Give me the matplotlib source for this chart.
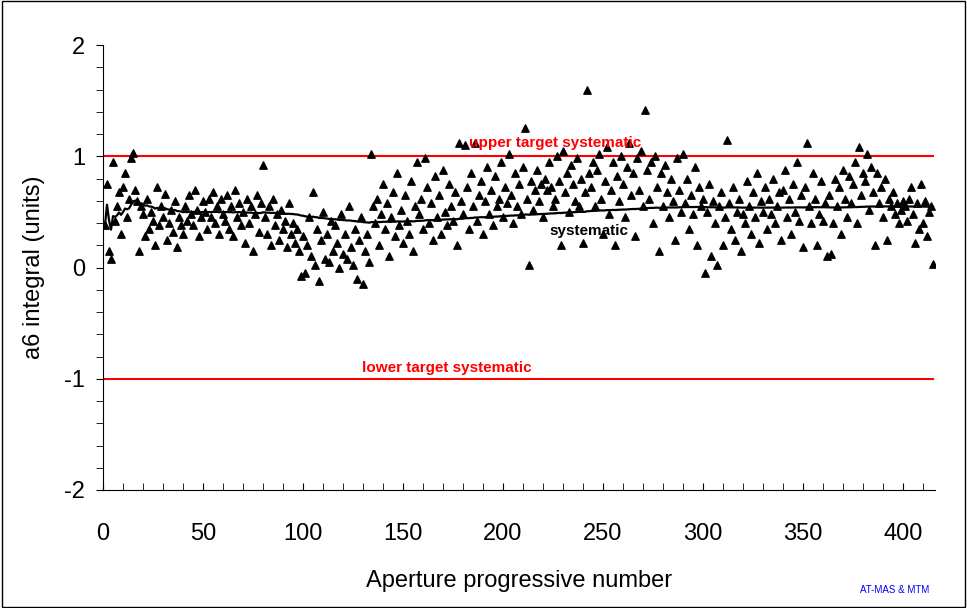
import numpy as np
import matplotlib
matplotlib.use("Agg")
import matplotlib.pyplot as plt
from matplotlib.ticker import MultipleLocator

plt.rcParams['font.family'] = ['Liberation Sans', 'DejaVu Sans']
plt.rcParams['axes.unicode_minus'] = False

vals = [
0.38,0.75,0.15,0.08,0.95,0.42,0.55,0.68,0.30,0.72,0.85,0.45,0.62,0.98,1.03,0.70,0.60,0.15,0.55,0.48,
0.28,0.62,0.35,0.50,0.42,0.20,0.72,0.38,0.55,0.45,0.66,0.25,0.40,0.52,0.32,0.60,0.18,0.45,0.38,0.30,
0.55,0.42,0.65,0.48,0.38,0.70,0.52,0.28,0.45,0.60,0.50,0.35,0.62,0.45,0.68,0.40,0.55,0.30,0.62,0.48,
0.42,0.65,0.35,0.55,0.28,0.70,0.45,0.58,0.38,0.50,0.22,0.62,0.40,0.55,0.15,0.48,0.65,0.32,0.58,0.92,
0.45,0.30,0.55,0.20,0.62,0.38,0.48,0.25,0.52,0.35,0.42,0.18,0.58,0.30,0.40,0.22,0.35,0.15,-0.08,0.28,
-0.05,0.20,0.45,0.10,0.68,0.02,0.35,-0.12,0.25,0.50,0.08,0.30,0.05,0.42,0.15,0.38,0.22,0.00,0.48,0.12,
0.30,0.08,0.55,0.18,0.02,0.35,-0.10,0.25,0.45,-0.15,0.15,0.30,0.05,1.02,0.55,0.40,0.62,0.20,0.48,0.75,
0.35,0.58,0.10,0.45,0.68,0.28,0.85,0.38,0.52,0.22,0.65,0.42,0.30,0.78,0.15,0.55,0.95,0.48,0.62,0.35,
0.98,0.72,0.40,0.58,0.25,0.82,0.45,0.65,0.30,0.88,0.50,0.38,0.75,0.55,0.42,0.68,0.20,1.12,0.60,0.48,
1.10,0.72,0.35,0.85,0.55,1.12,0.42,0.65,0.78,0.30,0.60,0.90,0.48,0.70,0.38,0.82,0.55,0.62,0.95,0.45,
0.72,0.58,1.02,0.65,0.40,0.85,0.55,0.75,0.48,0.90,1.25,0.62,0.02,0.78,0.52,0.70,0.88,0.60,0.75,0.45,
0.80,0.70,0.95,0.72,0.55,0.62,1.00,0.78,0.20,1.05,0.68,0.85,0.50,0.92,0.75,0.60,0.98,0.55,0.80,0.22,
0.68,1.60,0.85,0.72,0.95,0.55,0.88,1.02,0.62,0.30,0.78,1.08,0.48,0.70,0.95,0.20,0.82,0.60,1.00,0.75,
0.45,0.90,1.12,0.65,0.85,0.28,0.98,0.70,1.05,0.55,1.42,0.88,0.62,0.95,0.40,1.00,0.72,0.15,0.85,0.55,
0.92,0.68,0.45,0.80,0.60,0.25,0.98,0.70,0.50,1.02,0.58,0.80,0.35,0.65,0.48,0.90,0.20,0.72,0.55,0.62,
-0.05,0.50,0.75,0.10,0.60,0.40,0.02,0.55,0.68,0.20,0.45,1.15,0.58,0.35,0.72,0.25,0.50,0.62,0.15,0.48,
0.40,0.78,0.55,0.30,0.68,0.45,0.85,0.22,0.60,0.50,0.72,0.35,0.62,0.48,0.80,0.40,0.55,0.68,0.25,0.70,
0.88,0.45,0.62,0.30,0.75,0.50,0.95,0.42,0.65,0.18,0.72,1.12,0.55,0.40,0.85,0.62,0.20,0.48,0.78,0.42,
0.58,0.10,0.65,0.12,0.40,0.80,0.55,0.72,0.30,0.88,0.62,0.45,0.82,0.58,0.75,0.95,0.40,1.08,0.65,0.85,
0.78,1.02,0.52,0.90,0.68,0.20,0.85,0.58,0.72,0.45,0.80,0.25,0.62,0.55,0.68,0.48,0.58,0.40,0.52,0.60,
0.55,0.42,0.62,0.72,0.48,0.22,0.58,0.35,0.75,0.40,0.60,0.28,0.50,0.55,0.03]
y = np.array(vals)
x = np.arange(1, len(y) + 1)
syst = np.cumsum(y) / x
upper, lower = 1.0, -1.0

fig = plt.figure(figsize=(9.67, 6.08), dpi=100)
ax = fig.add_axes([103/967, 1-490/608, (935-103)/967, (490-45)/608])
ax.scatter(x, y, marker='^', s=28, color='black', zorder=3)
ax.plot(x, syst, color='black', lw=1.6, zorder=2)
ax.plot([0, 415], [upper, upper], color='red', lw=1.5)
ax.plot([0, 415], [lower, lower], color='red', lw=1.5)
ax.set_xlim(0, 416)
ax.set_ylim(-2, 2)
for s in ['top', 'right']:
    ax.spines[s].set_visible(False)
ax.xaxis.set_major_locator(MultipleLocator(50))
ax.xaxis.set_minor_locator(MultipleLocator(10))
ax.yaxis.set_major_locator(MultipleLocator(1))
ax.yaxis.set_minor_locator(MultipleLocator(0.2))
ax.tick_params(axis='x', which='both', direction='in', length=5, labelsize=17, pad=24)
ax.tick_params(axis='y', which='both', direction='out', length=5, labelsize=17, pad=8)
ax.set_xlabel('Aperture progressive number', fontsize=17, labelpad=18)
ax.set_ylabel('a6 integral (units)', fontsize=17, labelpad=14)
ax.text(226, 1.12, 'upper target systematic', color='red', fontsize=11, fontweight='bold', ha='center', va='center')
ax.text(172, -0.9, 'lower target systematic', color='red', fontsize=11, fontweight='bold', ha='center', va='center')
ax.text(243, 0.33, 'systematic', color='black', fontsize=11, fontweight='bold', ha='center', va='center')
fig.text(895/967, 1-590/608, 'AT-MAS & MTM', color='blue', fontsize=7, ha='center', va='center')
fig.patches.append(plt.Rectangle((0.002, 0.002), 0.996, 0.996, transform=fig.transFigure, fill=False, edgecolor='black', lw=1))
fig.savefig('out.png', dpi=100)
